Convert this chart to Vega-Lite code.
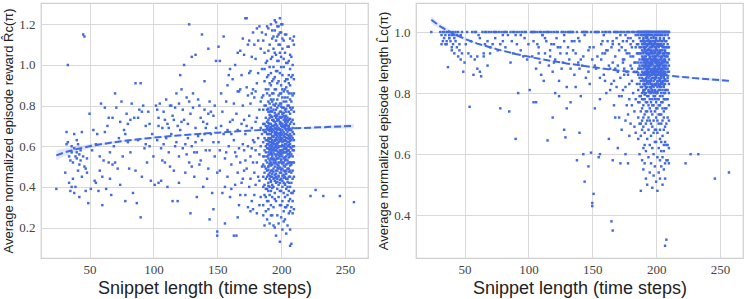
{
"$schema":"https://vega.github.io/schema/vega-lite/v6.json",
"background":"white",
"padding":{"left":2,"top":2,"right":3,"bottom":2},
"datasets":{
"fit":[
{"x":24,"ry":0.555,"rlo":0.530,"rhi":0.580,"ly":1.040,"llo":1.028,"lhi":1.052},
{"x":30,"ry":0.569,"rlo":0.549,"rhi":0.589,"ly":1.021,"llo":1.012,"lhi":1.030},
{"x":40,"ry":0.586,"rlo":0.572,"rhi":0.600,"ly":0.997,"llo":0.991,"lhi":1.003},
{"x":50,"ry":0.600,"rlo":0.589,"rhi":0.611,"ly":0.978,"llo":0.973,"lhi":0.983},
{"x":60,"ry":0.611,"rlo":0.603,"rhi":0.619,"ly":0.962,"llo":0.958,"lhi":0.966},
{"x":75,"ry":0.625,"rlo":0.619,"rhi":0.631,"ly":0.944,"llo":0.941,"lhi":0.947},
{"x":90,"ry":0.636,"rlo":0.631,"rhi":0.641,"ly":0.928,"llo":0.926,"lhi":0.930},
{"x":110,"ry":0.648,"rlo":0.644,"rhi":0.652,"ly":0.911,"llo":0.909,"lhi":0.913},
{"x":130,"ry":0.658,"rlo":0.654,"rhi":0.662,"ly":0.897,"llo":0.895,"lhi":0.899},
{"x":150,"ry":0.667,"rlo":0.664,"rhi":0.670,"ly":0.885,"llo":0.883,"lhi":0.887},
{"x":170,"ry":0.675,"rlo":0.672,"rhi":0.678,"ly":0.874,"llo":0.872,"lhi":0.876},
{"x":190,"ry":0.682,"rlo":0.679,"rhi":0.685,"ly":0.865,"llo":0.863,"lhi":0.867},
{"x":210,"ry":0.688,"rlo":0.684,"rhi":0.692,"ly":0.857,"llo":0.855,"lhi":0.859},
{"x":230,"ry":0.693,"rlo":0.686,"rhi":0.700,"ly":0.849,"llo":0.846,"lhi":0.852},
{"x":257,"ry":0.700,"rlo":0.689,"rhi":0.711,"ly":0.840,"llo":0.835,"lhi":0.845}
],
"pts":[
{"x":24,"r":0.39,"l":1.0},{"x":31,"r":0.47,"l":1.0},{"x":32,"r":0.67,"l":0.96},{"x":32,"r":0.61,"l":0.99},{"x":33,"r":1.0,"l":0.97},{"x":33,"r":0.62,"l":1.0},{"x":34,"r":0.55,"l":0.98},{"x":34,"r":0.42,"l":1.0},{"x":35,"r":0.53,"l":0.96},{"x":35,"r":0.38,"l":0.99},{"x":36,"r":0.60,"l":1.0},{"x":36,"r":0.57,"l":0.97},{"x":37,"r":0.44,"l":0.885},{"x":37,"r":0.52,"l":1.0},{"x":38,"r":0.37,"l":0.99},{"x":38,"r":0.59,"l":0.98},{"x":39,"r":0.40,"l":0.97},{"x":39,"r":0.55,"l":1.0},{"x":40,"r":0.63,"l":0.95},{"x":40,"r":0.57,"l":0.99},{"x":41,"r":0.48,"l":1.0},{"x":41,"r":0.61,"l":0.96},{"x":42,"r":0.56,"l":0.98},{"x":42,"r":0.35,"l":0.93},{"x":43,"r":0.53,"l":1.0},{"x":43,"r":0.58,"l":0.97},{"x":44,"r":0.45,"l":0.95},{"x":44,"r":0.67,"l":0.99},{"x":45,"r":1.15,"l":0.92},{"x":45,"r":0.55,"l":1.0},{"x":46,"r":1.14,"l":0.94},{"x":46,"r":0.50,"l":0.96},{"x":47,"r":0.49,"l":0.91},{"x":47,"r":0.38,"l":0.99},{"x":48,"r":0.54,"l":0.93},{"x":48,"r":0.47,"l":1.0},{"x":49,"r":0.32,"l":0.87},{"x":50,"r":0.76,"l":0.90},{"x":36,"r":0.40,"l":0.96},{"x":40,"r":0.54,"l":0.94},{"x":38,"r":0.66,"l":0.98},{"x":42,"r":0.51,"l":0.99},
{"x":51,"r":0.39,"l":0.96},{"x":52,"r":0.58,"l":1.0},{"x":53,"r":0.68,"l":0.93},{"x":54,"r":0.43,"l":0.755},{"x":55,"r":0.42,"l":0.92},{"x":56,"r":0.66,"l":1.0},{"x":57,"r":0.38,"l":0.86},{"x":58,"r":0.55,"l":0.91},{"x":59,"r":0.81,"l":1.0},{"x":60,"r":0.31,"l":0.88},{"x":60,"r":0.45,"l":0.92},{"x":61,"r":0.53,"l":0.99},{"x":62,"r":0.79,"l":0.87},{"x":63,"r":0.39,"l":0.855},{"x":64,"r":0.70,"l":1.0},{"x":65,"r":0.52,"l":0.93},{"x":66,"r":0.57,"l":0.96},{"x":67,"r":0.36,"l":1.0},{"x":68,"r":0.74,"l":0.97},{"x":69,"r":0.60,"l":1.0},{"x":70,"r":0.86,"l":0.93},{"x":71,"r":0.79,"l":1.0},{"x":72,"r":0.49,"l":0.96},{"x":73,"r":0.64,"l":1.0},{"x":74,"r":0.72,"l":0.98},{"x":75,"r":0.82,"l":1.0},{"x":76,"r":0.55,"l":0.94},{"x":77,"r":0.68,"l":1.0},{"x":78,"r":0.33,"l":0.75},{"x":79,"r":0.76,"l":1.0},{"x":80,"r":0.62,"l":0.97},{"x":81,"r":0.49,"l":1.0},{"x":82,"r":0.73,"l":0.95},{"x":83,"r":0.81,"l":1.0},{"x":84,"r":0.37,"l":0.99},{"x":85,"r":0.74,"l":0.74},{"x":86,"r":0.91,"l":1.0},{"x":87,"r":0.32,"l":0.97},{"x":88,"r":0.63,"l":0.93},{"x":89,"r":0.78,"l":1.0},{"x":90,"r":0.25,"l":0.65},{"x":90,"r":0.91,"l":0.99},{"x":91,"r":0.45,"l":0.96},{"x":92,"r":0.80,"l":0.80},{"x":93,"r":0.59,"l":1.0},{"x":94,"r":0.70,"l":0.94},{"x":95,"r":0.52,"l":1.0},{"x":96,"r":0.77,"l":0.92},{"x":97,"r":0.60,"l":0.98},{"x":98,"r":0.43,"l":1.0},{"x":99,"r":0.66,"l":0.91},{"x":100,"r":0.55,"l":0.96},{"x":55,"r":0.61,"l":0.97},{"x":58,"r":0.48,"l":1.0},{"x":62,"r":0.67,"l":0.98},{"x":66,"r":0.44,"l":1.0},{"x":70,"r":0.52,"l":0.95},{"x":74,"r":0.41,"l":1.0},{"x":78,"r":0.66,"l":0.96},{"x":82,"r":0.57,"l":1.0},{"x":86,"r":0.48,"l":0.90},{"x":88,"r":0.74,"l":1.0},{"x":94,"r":0.61,"l":0.99},{"x":97,"r":0.71,"l":1.0},{"x":65,"r":0.74,"l":0.92},{"x":80,"r":0.71,"l":0.99},{"x":91,"r":0.77,"l":1.0},{"x":68,"r":0.51,"l":0.89},
{"x":101,"r":0.41,"l":0.81},{"x":104,"r":0.42,"l":0.77},{"x":106,"r":0.43,"l":0.77},{"x":115,"r":0.33,"l":0.645},{"x":119,"r":0.33,"l":0.72},{"x":121,"r":0.95,"l":0.80},{"x":124,"r":1.0,"l":0.79},{"x":128,"r":1.2,"l":0.68},{"x":129,"r":0.27,"l":0.655},{"x":130,"r":1.04,"l":0.75},{"x":133,"r":1.05,"l":0.77},{"x":138,"r":1.15,"l":0.58},{"x":140,"r":0.92,"l":0.67},{"x":143,"r":1.08,"l":0.60},{"x":144,"r":0.24,"l":0.51},{"x":147,"r":0.29,"l":0.56},{"x":149,"r":1.02,"l":0.605},{"x":150,"r":0.18,"l":0.43},{"x":150,"r":0.16,"l":0.44},{"x":151,"r":1.09,"l":0.47},
{"x":102,"r":0.80,"l":1.0},{"x":103,"r":0.63,"l":0.92},{"x":104,"r":0.74,"l":0.97},{"x":105,"r":0.81,"l":1.0},{"x":106,"r":0.59,"l":0.88},{"x":107,"r":0.69,"l":1.0},{"x":108,"r":0.77,"l":0.95},{"x":109,"r":0.52,"l":0.90},{"x":110,"r":0.83,"l":1.0},{"x":110,"r":0.64,"l":0.86},{"x":111,"r":0.71,"l":0.99},{"x":112,"r":0.57,"l":1.0},{"x":113,"r":0.80,"l":0.93},{"x":114,"r":0.66,"l":0.97},{"x":115,"r":0.75,"l":1.0},{"x":116,"r":0.48,"l":0.89},{"x":117,"r":0.79,"l":0.94},{"x":118,"r":0.62,"l":1.0},{"x":119,"r":0.70,"l":0.87},{"x":120,"r":0.55,"l":0.96},{"x":120,"r":0.81,"l":1.0},{"x":121,"r":0.68,"l":0.91},{"x":122,"r":0.88,"l":0.98},{"x":123,"r":0.59,"l":1.0},{"x":124,"r":0.73,"l":0.84},{"x":125,"r":0.47,"l":0.95},{"x":126,"r":0.84,"l":1.0},{"x":127,"r":0.64,"l":0.90},{"x":128,"r":0.52,"l":0.99},{"x":129,"r":0.76,"l":1.0},{"x":130,"r":0.60,"l":0.82},{"x":131,"r":0.79,"l":0.95},{"x":132,"r":0.45,"l":1.0},{"x":133,"r":0.69,"l":0.88},{"x":134,"r":0.57,"l":0.97},{"x":135,"r":0.83,"l":1.0},{"x":136,"r":0.51,"l":0.86},{"x":137,"r":0.74,"l":0.93},{"x":138,"r":0.63,"l":1.0},{"x":139,"r":0.40,"l":0.90},{"x":140,"r":0.78,"l":0.97},{"x":141,"r":0.58,"l":0.79},{"x":142,"r":0.71,"l":1.0},{"x":143,"r":0.49,"l":0.92},{"x":144,"r":0.82,"l":0.99},{"x":145,"r":0.66,"l":0.85},{"x":146,"r":0.37,"l":1.0},{"x":147,"r":0.75,"l":0.94},{"x":148,"r":0.55,"l":0.83},{"x":149,"r":0.69,"l":1.0},{"x":150,"r":0.47,"l":0.91},{"x":103,"r":0.78,"l":1.0},{"x":107,"r":0.53,"l":0.96},{"x":111,"r":0.40,"l":0.99},{"x":114,"r":0.80,"l":1.0},{"x":117,"r":0.60,"l":0.92},{"x":122,"r":0.72,"l":1.0},{"x":126,"r":0.56,"l":0.88},{"x":131,"r":0.86,"l":1.0},{"x":135,"r":0.65,"l":0.94},{"x":139,"r":0.72,"l":0.98},{"x":143,"r":0.76,"l":1.0},{"x":147,"r":0.62,"l":0.87},{"x":112,"r":0.69,"l":0.84},{"x":125,"r":0.61,"l":0.93},{"x":134,"r":0.35,"l":1.0},{"x":142,"r":0.44,"l":0.89},{"x":118,"r":0.86,"l":0.96},{"x":137,"r":0.53,"l":0.82},{"x":145,"r":0.77,"l":1.0},{"x":128,"r":0.82,"l":0.97},{"x":109,"r":0.73,"l":1.0},{"x":132,"r":0.57,"l":0.91},{"x":140,"r":0.66,"l":0.88},
{"x":104,"r":0.70,"l":1.0},{"x":108,"r":0.61,"l":0.93},{"x":113,"r":0.50,"l":0.98},{"x":116,"r":0.73,"l":1.0},{"x":120,"r":0.42,"l":0.90},{"x":123,"r":0.78,"l":0.95},{"x":127,"r":0.71,"l":1.0},{"x":130,"r":0.50,"l":0.93},{"x":133,"r":0.62,"l":1.0},{"x":136,"r":0.80,"l":0.97},{"x":141,"r":0.69,"l":0.91},{"x":144,"r":0.58,"l":1.0},{"x":148,"r":0.80,"l":0.95},{"x":152,"r":0.58,"l":0.89},{"x":154,"r":0.77,"l":1.0},{"x":156,"r":0.40,"l":0.85},{"x":158,"r":0.90,"l":0.93},{"x":161,"r":0.66,"l":1.0},{"x":164,"r":0.57,"l":0.81},{"x":166,"r":0.87,"l":0.96},{"x":168,"r":0.36,"l":0.88},{"x":169,"r":0.95,"l":1.0},{"x":171,"r":0.48,"l":0.79},{"x":173,"r":0.70,"l":0.95},{"x":175,"r":1.12,"l":0.86},{"x":176,"r":0.44,"l":0.71},{"x":177,"r":0.86,"l":0.97},{"x":178,"r":0.52,"l":1.0},{"x":179,"r":1.10,"l":0.83},{"x":180,"r":0.87,"l":0.92},{"x":181,"r":0.74,"l":0.76},{"x":182,"r":0.96,"l":1.0},{"x":183,"r":0.43,"l":0.90},{"x":184,"r":0.82,"l":0.78},{"x":185,"r":0.66,"l":0.96},{"x":185,"r":1.16,"l":0.87},{"x":181,"r":1.18,"l":0.95},{"x":179,"r":0.36,"l":0.66},{"x":177,"r":0.59,"l":0.87},{"x":174,"r":0.85,"l":0.81},
{"x":152,"r":1.02,"l":0.75},{"x":155,"r":1.14,"l":0.59},{"x":156,"r":0.22,"l":0.60},{"x":160,"r":0.98,"l":0.84},{"x":163,"r":0.16,"l":0.65},{"x":165,"r":0.16,"l":0.38},{"x":166,"r":0.25,"l":0.35},{"x":166,"r":1.06,"l":0.58},{"x":168,"r":1.07,"l":0.72},{"x":170,"r":1.13,"l":0.62},{"x":172,"r":1.23,"l":0.57},{"x":173,"r":1.23,"l":0.68},{"x":176,"r":0.28,"l":0.60},{"x":178,"r":0.29,"l":0.57},
{"x":151,"r":0.62,"l":0.95},{"x":152,"r":0.48,"l":1.0},{"x":153,"r":0.70,"l":0.88},{"x":154,"r":0.37,"l":0.92},{"x":155,"r":0.66,"l":1.0},{"x":156,"r":0.54,"l":0.78},{"x":157,"r":0.82,"l":0.96},{"x":158,"r":0.45,"l":1.0},{"x":159,"r":0.60,"l":0.86},{"x":160,"r":0.35,"l":0.93},{"x":160,"r":0.72,"l":1.0},{"x":161,"r":0.51,"l":0.80},{"x":162,"r":0.93,"l":0.97},{"x":163,"r":0.63,"l":0.89},{"x":164,"r":0.41,"l":1.0},{"x":165,"r":0.76,"l":0.83},{"x":165,"r":0.55,"l":0.95},{"x":166,"r":0.68,"l":0.90},{"x":167,"r":0.31,"l":1.0},{"x":167,"r":0.87,"l":0.76},{"x":168,"r":0.52,"l":0.92},{"x":169,"r":0.71,"l":0.98},{"x":170,"r":0.44,"l":0.87},{"x":170,"r":0.80,"l":1.0},{"x":171,"r":0.58,"l":0.72},{"x":171,"r":1.05,"l":0.94},{"x":172,"r":0.36,"l":0.99},{"x":172,"r":0.66,"l":0.85},{"x":173,"r":0.89,"l":1.0},{"x":173,"r":0.49,"l":0.79},{"x":174,"r":0.60,"l":0.91},{"x":174,"r":1.10,"l":0.97},{"x":175,"r":0.75,"l":0.88},{"x":175,"r":0.40,"l":1.0},{"x":176,"r":0.97,"l":0.82},{"x":176,"r":0.55,"l":0.94},{"x":177,"r":0.69,"l":1.0},{"x":177,"r":0.33,"l":0.76},{"x":178,"r":1.16,"l":0.98},{"x":178,"r":0.63,"l":0.86},{"x":179,"r":0.84,"l":0.93},{"x":179,"r":0.47,"l":1.0},{"x":180,"r":1.03,"l":0.89},{"x":180,"r":0.58,"l":0.70},{"x":180,"r":0.72,"l":0.96},{"x":181,"r":0.27,"l":0.84},{"x":181,"r":0.91,"l":1.0},{"x":182,"r":1.12,"l":0.92},{"x":182,"r":0.64,"l":0.80},{"x":182,"r":0.45,"l":0.97},{"x":183,"r":1.19,"l":0.87},{"x":183,"r":0.78,"l":1.0},{"x":183,"r":0.56,"l":0.74},{"x":184,"r":1.08,"l":0.95},{"x":184,"r":0.35,"l":0.67},{"x":184,"r":0.69,"l":0.90},{"x":185,"r":0.98,"l":1.0},{"x":185,"r":0.50,"l":0.83},{"x":185,"r":0.84,"l":0.93},{"x":153,"r":0.86,"l":1.0},{"x":157,"r":0.57,"l":0.91},{"x":159,"r":0.95,"l":0.99},{"x":161,"r":0.39,"l":0.94},{"x":163,"r":0.81,"l":1.0},{"x":164,"r":1.0,"l":0.88},{"x":166,"r":0.47,"l":0.97},{"x":168,"r":0.88,"l":1.0},{"x":169,"r":0.42,"l":0.82},{"x":171,"r":0.73,"l":0.96},{"x":174,"r":0.30,"l":0.90},{"x":176,"r":0.81,"l":0.99},{"x":177,"r":1.04,"l":0.93},{"x":179,"r":0.62,"l":0.78},{"x":181,"r":0.52,"l":0.88},{"x":178,"r":0.88,"l":0.73},{"x":180,"r":0.41,"l":0.98},{"x":183,"r":0.31,"l":0.69},{"x":184,"r":0.60,"l":0.99},{"x":175,"r":0.96,"l":0.91},{"x":172,"r":0.53,"l":1.0},{"x":170,"r":0.61,"l":0.89},{"x":167,"r":0.59,"l":0.84},{"x":162,"r":0.73,"l":0.94},{"x":158,"r":0.68,"l":0.97},
{"x":186,"r":0.62,"l":0.93},{"x":186,"r":0.45,"l":1.0},{"x":186,"r":0.78,"l":0.86},{"x":186,"r":0.31,"l":0.72},{"x":186,"r":1.12,"l":0.96},{"x":186,"r":0.55,"l":0.81},{"x":186,"r":0.68,"l":0.90},{"x":186,"r":0.26,"l":0.65},{"x":186,"r":0.51,"l":0.99},{"x":186,"r":0.85,"l":0.77},{"x":186,"r":0.40,"l":0.88},{"x":186,"r":0.71,"l":1.0},
{"x":187,"r":0.58,"l":1.0},{"x":187,"r":0.71,"l":0.88},{"x":187,"r":0.41,"l":0.77},{"x":187,"r":0.92,"l":0.95},{"x":187,"r":0.64,"l":0.83},{"x":187,"r":0.21,"l":0.60},{"x":187,"r":0.50,"l":0.91},{"x":187,"r":1.06,"l":0.98},{"x":187,"r":0.47,"l":0.70},{"x":187,"r":0.80,"l":1.0},{"x":187,"r":0.36,"l":0.85},{"x":187,"r":0.67,"l":0.93},{"x":187,"r":0.55,"l":0.79},{"x":187,"r":0.98,"l":0.89},
{"x":188,"r":0.67,"l":0.86},{"x":188,"r":0.53,"l":0.97},{"x":188,"r":0.35,"l":0.70},{"x":188,"r":0.80,"l":1.0},{"x":188,"r":1.15,"l":0.93},{"x":188,"r":0.60,"l":0.79},{"x":188,"r":0.44,"l":0.48},{"x":188,"r":0.74,"l":0.90},{"x":188,"r":0.28,"l":0.66},{"x":188,"r":0.57,"l":1.0},{"x":188,"r":0.88,"l":0.84},{"x":188,"r":0.49,"l":0.95},{"x":188,"r":0.70,"l":0.74},{"x":188,"r":1.01,"l":0.99},{"x":188,"r":0.63,"l":0.88},{"x":188,"r":0.39,"l":0.82},
{"x":189,"r":0.55,"l":0.94},{"x":189,"r":0.63,"l":0.82},{"x":189,"r":0.72,"l":1.0},{"x":189,"r":0.39,"l":0.75},{"x":189,"r":0.86,"l":0.89},{"x":189,"r":0.48,"l":0.99},{"x":189,"r":1.02,"l":0.68},{"x":189,"r":0.59,"l":0.87},{"x":189,"r":0.24,"l":0.58},{"x":189,"r":0.69,"l":0.92},{"x":189,"r":0.78,"l":0.96},{"x":189,"r":0.45,"l":0.80},{"x":189,"r":0.94,"l":1.0},{"x":189,"r":0.52,"l":0.85},{"x":189,"r":0.66,"l":0.71},{"x":189,"r":1.19,"l":0.91},{"x":189,"r":0.33,"l":0.97},{"x":189,"r":0.61,"l":0.78},
{"x":190,"r":0.61,"l":0.90},{"x":190,"r":0.50,"l":1.0},{"x":190,"r":0.77,"l":0.84},{"x":190,"r":0.33,"l":0.72},{"x":190,"r":0.95,"l":0.96},{"x":190,"r":0.66,"l":0.62},{"x":190,"r":0.42,"l":0.88},{"x":190,"r":1.18,"l":0.98},{"x":190,"r":0.57,"l":0.78},{"x":190,"r":0.70,"l":0.93},{"x":190,"r":0.29,"l":0.55},{"x":190,"r":0.82,"l":1.0},{"x":190,"r":0.46,"l":0.86},{"x":190,"r":0.64,"l":0.81},{"x":190,"r":0.54,"l":0.95},{"x":190,"r":1.07,"l":0.91},{"x":190,"r":0.73,"l":0.69},{"x":190,"r":0.38,"l":0.99},{"x":190,"r":0.59,"l":0.83},{"x":190,"r":0.88,"l":0.76},{"x":190,"r":0.68,"l":0.97},{"x":190,"r":0.50,"l":0.89},
{"x":191,"r":0.64,"l":0.97},{"x":191,"r":0.58,"l":0.86},{"x":191,"r":0.47,"l":0.91},{"x":191,"r":0.81,"l":1.0},{"x":191,"r":0.36,"l":0.67},{"x":191,"r":1.10,"l":0.94},{"x":191,"r":0.69,"l":0.81},{"x":191,"r":0.53,"l":0.73},{"x":191,"r":0.74,"l":0.89},{"x":191,"r":0.22,"l":0.57},{"x":191,"r":0.60,"l":0.99},{"x":191,"r":0.91,"l":0.84},{"x":191,"r":0.44,"l":1.0},{"x":191,"r":0.66,"l":0.92},{"x":191,"r":0.77,"l":0.78},{"x":191,"r":0.51,"l":0.96},{"x":191,"r":0.99,"l":0.87},{"x":191,"r":0.62,"l":0.63},{"x":191,"r":0.40,"l":0.83},{"x":191,"r":0.71,"l":0.95},{"x":191,"r":0.56,"l":0.80},{"x":191,"r":0.85,"l":0.90},
{"x":192,"r":0.59,"l":0.83},{"x":192,"r":0.66,"l":0.95},{"x":192,"r":0.43,"l":1.0},{"x":192,"r":0.75,"l":0.77},{"x":192,"r":0.52,"l":0.92},{"x":192,"r":0.90,"l":0.87},{"x":192,"r":0.31,"l":0.61},{"x":192,"r":1.20,"l":0.99},{"x":192,"r":0.62,"l":0.70},{"x":192,"r":0.48,"l":0.85},{"x":192,"r":0.71,"l":0.96},{"x":192,"r":0.38,"l":0.52},{"x":192,"r":0.57,"l":1.0},{"x":192,"r":0.83,"l":0.89},{"x":192,"r":1.03,"l":0.80},{"x":192,"r":0.68,"l":0.93},{"x":192,"r":0.45,"l":0.74},{"x":192,"r":0.79,"l":0.98},{"x":192,"r":0.54,"l":0.82},{"x":192,"r":0.26,"l":0.88},{"x":192,"r":0.64,"l":1.0},{"x":192,"r":0.96,"l":0.91},
{"x":193,"r":0.63,"l":1.0},{"x":193,"r":0.55,"l":0.90},{"x":193,"r":0.70,"l":0.79},{"x":193,"r":0.45,"l":0.94},{"x":193,"r":0.82,"l":0.86},{"x":193,"r":0.60,"l":0.65},{"x":193,"r":1.13,"l":0.98},{"x":193,"r":0.35,"l":0.74},{"x":193,"r":0.67,"l":0.88},{"x":193,"r":0.51,"l":0.82},{"x":193,"r":0.77,"l":0.93},{"x":193,"r":0.26,"l":0.50},{"x":193,"r":0.58,"l":0.97},{"x":193,"r":0.92,"l":0.84},{"x":193,"r":0.48,"l":1.0},{"x":193,"r":0.73,"l":0.71},{"x":193,"r":1.04,"l":0.91},{"x":193,"r":0.65,"l":0.87},{"x":193,"r":0.41,"l":0.96},{"x":193,"r":0.86,"l":0.77},{"x":193,"r":0.56,"l":0.89},{"x":193,"r":1.17,"l":0.99},
{"x":194,"r":0.57,"l":0.91},{"x":194,"r":0.68,"l":0.84},{"x":194,"r":0.49,"l":1.0},{"x":194,"r":0.73,"l":0.96},{"x":194,"r":0.62,"l":0.76},{"x":194,"r":0.40,"l":0.89},{"x":194,"r":0.99,"l":0.68},{"x":194,"r":0.54,"l":0.93},{"x":194,"r":0.86,"l":0.81},{"x":194,"r":0.65,"l":0.99},{"x":194,"r":0.30,"l":0.59},{"x":194,"r":1.08,"l":0.87},{"x":194,"r":0.59,"l":0.72},{"x":194,"r":0.78,"l":1.0},{"x":194,"r":0.44,"l":0.85},{"x":194,"r":0.70,"l":0.94},{"x":194,"r":1.14,"l":0.90},{"x":194,"r":0.52,"l":0.79},{"x":194,"r":0.83,"l":0.97},{"x":194,"r":0.21,"l":0.83},{"x":194,"r":0.61,"l":0.88},{"x":194,"r":0.93,"l":1.0},
{"x":195,"r":0.61,"l":0.95},{"x":195,"r":0.53,"l":0.88},{"x":195,"r":0.72,"l":0.82},{"x":195,"r":0.46,"l":1.0},{"x":195,"r":0.66,"l":0.71},{"x":195,"r":0.58,"l":0.92},{"x":195,"r":0.80,"l":0.86},{"x":195,"r":1.17,"l":0.97},{"x":195,"r":0.37,"l":0.63},{"x":195,"r":0.69,"l":0.78},{"x":195,"r":0.50,"l":0.90},{"x":195,"r":0.94,"l":0.84},{"x":195,"r":0.20,"l":0.54},{"x":195,"r":0.63,"l":0.99},{"x":195,"r":1.06,"l":0.93},{"x":195,"r":0.75,"l":1.0},{"x":195,"r":0.43,"l":0.80},{"x":195,"r":0.88,"l":0.89},{"x":195,"r":0.56,"l":0.75},{"x":195,"r":1.22,"l":0.96},{"x":195,"r":0.67,"l":0.87},{"x":195,"r":0.34,"l":0.94},
{"x":196,"r":0.64,"l":0.87},{"x":196,"r":0.55,"l":1.0},{"x":196,"r":0.78,"l":0.93},{"x":196,"r":0.48,"l":0.80},{"x":196,"r":0.60,"l":0.96},{"x":196,"r":0.71,"l":0.74},{"x":196,"r":1.05,"l":0.89},{"x":196,"r":0.42,"l":0.66},{"x":196,"r":0.67,"l":0.98},{"x":196,"r":0.58,"l":0.84},{"x":196,"r":1.21,"l":0.91},{"x":196,"r":0.33,"l":0.57},{"x":196,"r":0.74,"l":0.82},{"x":196,"r":0.52,"l":0.94},{"x":196,"r":0.88,"l":0.77},{"x":196,"r":1.12,"l":1.0},{"x":196,"r":0.63,"l":0.86},{"x":196,"r":0.45,"l":0.99},{"x":196,"r":0.97,"l":0.90},{"x":196,"r":0.69,"l":0.70},{"x":196,"r":0.16,"l":0.83},{"x":196,"r":0.81,"l":0.95},
{"x":197,"r":0.59,"l":1.0},{"x":197,"r":0.68,"l":0.92},{"x":197,"r":0.51,"l":0.85},{"x":197,"r":0.75,"l":0.97},{"x":197,"r":0.63,"l":0.73},{"x":197,"r":0.44,"l":0.88},{"x":197,"r":0.97,"l":0.81},{"x":197,"r":0.56,"l":0.95},{"x":197,"r":1.14,"l":0.69},{"x":197,"r":0.70,"l":0.90},{"x":197,"r":0.26,"l":0.49},{"x":197,"r":0.61,"l":0.86},{"x":197,"r":0.83,"l":0.99},{"x":197,"r":0.39,"l":0.62},{"x":197,"r":0.65,"l":0.78},{"x":197,"r":1.02,"l":0.93},{"x":197,"r":0.48,"l":1.0},{"x":197,"r":0.79,"l":0.83},{"x":197,"r":1.19,"l":0.87},{"x":197,"r":0.54,"l":0.76},{"x":197,"r":0.91,"l":0.96},{"x":197,"r":0.73,"l":0.91},
{"x":198,"r":0.62,"l":0.93},{"x":198,"r":0.57,"l":0.84},{"x":198,"r":0.73,"l":1.0},{"x":198,"r":0.49,"l":0.79},{"x":198,"r":0.66,"l":0.96},{"x":198,"r":1.19,"l":0.88},{"x":198,"r":0.54,"l":0.71},{"x":198,"r":0.80,"l":0.91},{"x":198,"r":0.35,"l":0.60},{"x":198,"r":0.69,"l":0.98},{"x":198,"r":1.02,"l":0.85},{"x":198,"r":0.60,"l":0.76},{"x":198,"r":0.45,"l":0.94},{"x":198,"r":0.76,"l":0.82},{"x":198,"r":0.22,"l":0.53},{"x":198,"r":0.92,"l":0.89},{"x":198,"r":1.10,"l":1.0},{"x":198,"r":0.52,"l":0.87},{"x":198,"r":0.85,"l":0.67},{"x":198,"r":0.64,"l":0.97},{"x":198,"r":0.41,"l":0.80},{"x":198,"r":1.15,"l":0.92},
{"x":199,"r":0.65,"l":0.86},{"x":199,"r":0.58,"l":1.0},{"x":199,"r":0.71,"l":0.92},{"x":199,"r":1.10,"l":0.78},{"x":199,"r":0.52,"l":0.97},{"x":199,"r":0.63,"l":0.83},{"x":199,"r":0.86,"l":0.90},{"x":199,"r":0.42,"l":0.68},{"x":199,"r":1.23,"l":0.95},{"x":199,"r":0.68,"l":0.74},{"x":199,"r":0.55,"l":0.88},{"x":199,"r":0.31,"l":0.56},{"x":199,"r":0.77,"l":0.99},{"x":199,"r":0.60,"l":0.81},{"x":199,"r":0.96,"l":0.93},{"x":199,"r":1.16,"l":1.0},{"x":199,"r":0.47,"l":0.85},{"x":199,"r":0.81,"l":0.64},{"x":199,"r":0.13,"l":0.91},{"x":199,"r":1.06,"l":0.87},{"x":199,"r":0.72,"l":0.96},{"x":199,"r":0.38,"l":0.79},
{"x":200,"r":0.60,"l":0.98},{"x":200,"r":0.67,"l":0.89},{"x":200,"r":0.53,"l":0.80},{"x":200,"r":0.74,"l":0.94},{"x":200,"r":1.16,"l":0.85},{"x":200,"r":0.47,"l":0.72},{"x":200,"r":0.63,"l":1.0},{"x":200,"r":0.90,"l":0.91},{"x":200,"r":0.38,"l":0.64},{"x":200,"r":0.70,"l":0.87},{"x":200,"r":0.56,"l":0.77},{"x":200,"r":1.04,"l":0.95},{"x":200,"r":0.25,"l":0.51},{"x":200,"r":0.81,"l":0.83},{"x":200,"r":0.64,"l":0.92},{"x":200,"r":1.20,"l":0.99},{"x":200,"r":0.44,"l":0.86},{"x":200,"r":0.77,"l":1.0},{"x":200,"r":0.99,"l":0.75},{"x":200,"r":0.58,"l":0.90},{"x":200,"r":0.31,"l":0.68},{"x":200,"r":0.86,"l":0.96},
{"x":201,"r":0.58,"l":0.91},{"x":201,"r":0.66,"l":1.0},{"x":201,"r":0.49,"l":0.84},{"x":201,"r":0.76,"l":0.96},{"x":201,"r":0.62,"l":0.75},{"x":201,"r":1.08,"l":0.88},{"x":201,"r":0.43,"l":0.67},{"x":201,"r":0.71,"l":0.93},{"x":201,"r":0.55,"l":0.80},{"x":201,"r":0.88,"l":0.99},{"x":201,"r":0.33,"l":0.59},{"x":201,"r":0.64,"l":0.86},{"x":201,"r":1.20,"l":0.90},{"x":201,"r":0.19,"l":0.48},{"x":201,"r":0.79,"l":0.82},{"x":201,"r":0.52,"l":0.97},{"x":201,"r":1.13,"l":0.78},{"x":201,"r":0.68,"l":1.0},{"x":201,"r":0.40,"l":0.87},{"x":201,"r":0.95,"l":0.94},{"x":201,"r":0.60,"l":0.71},{"x":201,"r":0.84,"l":0.89},
{"x":202,"r":0.63,"l":0.87},{"x":202,"r":0.54,"l":0.95},{"x":202,"r":0.70,"l":0.78},{"x":202,"r":0.46,"l":1.0},{"x":202,"r":0.79,"l":0.90},{"x":202,"r":0.60,"l":0.70},{"x":202,"r":0.99,"l":0.83},{"x":202,"r":0.37,"l":0.62},{"x":202,"r":0.67,"l":0.97},{"x":202,"r":0.52,"l":0.85},{"x":202,"r":1.12,"l":0.92},{"x":202,"r":0.28,"l":0.54},{"x":202,"r":0.73,"l":0.81},{"x":202,"r":0.57,"l":0.99},{"x":202,"r":0.87,"l":0.88},{"x":202,"r":0.42,"l":0.76},{"x":202,"r":1.03,"l":1.0},{"x":202,"r":0.65,"l":0.93},{"x":202,"r":0.48,"l":0.84},{"x":202,"r":0.82,"l":0.96},{"x":202,"r":0.23,"l":0.73},{"x":202,"r":0.75,"l":0.89},
{"x":203,"r":0.61,"l":0.93},{"x":203,"r":0.57,"l":0.82},{"x":203,"r":0.72,"l":1.0},{"x":203,"r":0.41,"l":0.76},{"x":203,"r":0.66,"l":0.89},{"x":203,"r":0.84,"l":0.96},{"x":203,"r":0.50,"l":0.68},{"x":203,"r":1.06,"l":0.86},{"x":203,"r":0.35,"l":0.58},{"x":203,"r":0.69,"l":0.91},{"x":203,"r":0.24,"l":0.52},{"x":203,"r":0.78,"l":0.79},{"x":203,"r":0.59,"l":0.98},{"x":203,"r":0.92,"l":0.84},{"x":203,"r":0.45,"l":1.0},{"x":203,"r":0.74,"l":0.88},{"x":203,"r":0.53,"l":0.73},{"x":203,"r":1.15,"l":0.94},{"x":203,"r":0.63,"l":0.81},{"x":203,"r":0.88,"l":0.99},{"x":203,"r":0.30,"l":0.65},{"x":203,"r":0.70,"l":0.87},
{"x":204,"r":0.59,"l":1.0},{"x":204,"r":0.68,"l":0.88},{"x":204,"r":0.48,"l":0.80},{"x":204,"r":0.75,"l":0.94},{"x":204,"r":0.55,"l":0.73},{"x":204,"r":0.93,"l":0.85},{"x":204,"r":0.39,"l":0.64},{"x":204,"r":0.64,"l":0.97},{"x":204,"r":1.15,"l":0.90},{"x":204,"r":0.30,"l":0.56},{"x":204,"r":0.71,"l":0.83},{"x":204,"r":0.51,"l":0.92},{"x":204,"r":0.82,"l":1.0},{"x":204,"r":0.61,"l":0.77},{"x":204,"r":1.01,"l":0.96},{"x":204,"r":0.44,"l":0.86},{"x":204,"r":0.77,"l":0.70},{"x":204,"r":0.57,"l":0.99},{"x":204,"r":0.89,"l":0.82},{"x":204,"r":0.66,"l":0.91},{"x":204,"r":0.17,"l":0.61},{"x":204,"r":0.73,"l":0.87},
{"x":205,"r":0.62,"l":0.90},{"x":205,"r":0.53,"l":0.97},{"x":205,"r":0.74,"l":0.77},{"x":205,"r":0.44,"l":0.84},{"x":205,"r":0.67,"l":1.0},{"x":205,"r":0.87,"l":0.92},{"x":205,"r":0.36,"l":0.66},{"x":205,"r":1.01,"l":0.86},{"x":205,"r":0.58,"l":0.71},{"x":205,"r":0.21,"l":0.50},{"x":205,"r":0.70,"l":0.95},{"x":205,"r":0.49,"l":0.81},{"x":205,"r":0.80,"l":0.99},{"x":205,"r":0.64,"l":0.88},{"x":205,"r":1.09,"l":0.93},{"x":205,"r":0.40,"l":0.75},{"x":205,"r":0.56,"l":1.0},{"x":205,"r":0.93,"l":0.83},{"x":205,"r":0.72,"l":0.89},{"x":205,"r":0.31,"l":0.59},{"x":205,"r":0.60,"l":0.94},{"x":205,"r":0.84,"l":0.79},
{"x":206,"r":0.60,"l":0.85},{"x":206,"r":0.70,"l":0.96},{"x":206,"r":0.49,"l":0.74},{"x":206,"r":0.80,"l":1.0},{"x":206,"r":0.38,"l":0.61},{"x":206,"r":0.65,"l":0.89},{"x":206,"r":0.95,"l":0.82},{"x":206,"r":0.27,"l":0.55},{"x":206,"r":0.56,"l":0.93},{"x":206,"r":1.09,"l":0.87},{"x":206,"r":0.73,"l":0.78},{"x":206,"r":0.45,"l":0.98},{"x":206,"r":0.62,"l":0.84},{"x":206,"r":0.86,"l":0.91},{"x":206,"r":0.33,"l":0.68},{"x":206,"r":0.68,"l":1.0},{"x":206,"r":1.02,"l":0.80},{"x":206,"r":0.52,"l":0.90},{"x":206,"r":0.77,"l":0.72},{"x":206,"r":0.58,"l":0.95},{"x":206,"r":0.91,"l":0.86},{"x":206,"r":0.42,"l":0.63},
{"x":207,"r":0.57,"l":0.94},{"x":207,"r":0.66,"l":0.80},{"x":207,"r":0.45,"l":0.88},{"x":207,"r":0.76,"l":0.99},{"x":207,"r":0.34,"l":0.69},{"x":207,"r":0.90,"l":0.86},{"x":207,"r":0.19,"l":0.57},{"x":207,"r":0.61,"l":0.91},{"x":207,"r":0.11,"l":0.30},{"x":207,"r":1.13,"l":0.97},{"x":207,"r":0.52,"l":0.83},{"x":207,"r":0.71,"l":1.0},{"x":207,"r":0.83,"l":0.75},{"x":207,"r":0.40,"l":0.89},{"x":207,"r":0.64,"l":0.64},{"x":207,"r":0.98,"l":0.92},{"x":207,"r":0.55,"l":0.78},{"x":207,"r":0.79,"l":0.95},{"x":207,"r":0.28,"l":0.52},{"x":207,"r":0.68,"l":0.87},{"x":207,"r":1.05,"l":1.0},{"x":207,"r":0.48,"l":0.81},
{"x":208,"r":0.63,"l":0.88},{"x":208,"r":0.52,"l":1.0},{"x":208,"r":0.72,"l":0.78},{"x":208,"r":0.42,"l":0.92},{"x":208,"r":0.86,"l":0.84},{"x":208,"r":0.30,"l":0.63},{"x":208,"r":0.59,"l":0.95},{"x":208,"r":0.12,"l":0.32},{"x":208,"r":1.04,"l":0.90},{"x":208,"r":0.68,"l":0.75},{"x":208,"r":0.47,"l":0.97},{"x":208,"r":0.78,"l":0.86},{"x":208,"r":0.56,"l":0.70},{"x":208,"r":0.94,"l":1.0},{"x":208,"r":0.37,"l":0.58},{"x":208,"r":0.65,"l":0.93},{"x":208,"r":0.82,"l":0.81},{"x":208,"r":0.51,"l":0.89},
{"x":209,"r":0.60,"l":1.0},{"x":209,"r":0.69,"l":0.87},{"x":209,"r":0.48,"l":0.93},{"x":209,"r":0.79,"l":0.81},{"x":209,"r":0.37,"l":0.72},{"x":209,"r":0.95,"l":0.96},{"x":209,"r":0.55,"l":0.84},{"x":209,"r":1.12,"l":0.90},{"x":209,"r":0.27,"l":0.63},{"x":209,"r":0.73,"l":0.99},{"x":209,"r":0.64,"l":0.78},{"x":209,"r":0.44,"l":0.58},{"x":209,"r":0.85,"l":0.88},{"x":209,"r":0.58,"l":1.0},{"x":209,"r":1.00,"l":0.92},{"x":209,"r":0.33,"l":0.67},{"x":209,"r":0.67,"l":0.85},{"x":209,"r":0.52,"l":0.95},
{"x":210,"r":0.66,"l":0.95},{"x":210,"r":0.58,"l":0.89},{"x":210,"r":0.86,"l":1.0},{"x":210,"r":1.10,"l":0.83},{"x":210,"r":0.45,"l":0.76},{"x":210,"r":0.71,"l":0.91},{"x":210,"r":0.38,"l":0.62},{"x":210,"r":0.63,"l":0.98},{"x":210,"r":0.93,"l":0.87},{"x":210,"r":0.52,"l":0.71},{"x":210,"r":1.14,"l":1.0},{"x":210,"r":0.77,"l":0.80},{"x":210,"r":0.29,"l":0.57},{"x":210,"r":0.60,"l":0.93},
{"x":190,"r":0.555,"l":0.915},{"x":190,"r":0.715,"l":0.845},{"x":190,"r":0.485,"l":0.975},{"x":190,"r":0.625,"l":0.805},{"x":190,"r":0.405,"l":0.935},{"x":190,"r":0.785,"l":0.865},
{"x":191,"r":0.585,"l":0.885},{"x":191,"r":0.455,"l":0.945},{"x":191,"r":0.675,"l":0.825},{"x":191,"r":0.755,"l":0.965},{"x":191,"r":0.515,"l":0.795},{"x":191,"r":0.635,"l":0.905},
{"x":192,"r":0.505,"l":0.935},{"x":192,"r":0.695,"l":0.865},{"x":192,"r":0.605,"l":0.985},{"x":192,"r":0.425,"l":0.815},{"x":192,"r":0.775,"l":0.895},{"x":192,"r":0.565,"l":0.845},
{"x":193,"r":0.615,"l":0.875},{"x":193,"r":0.535,"l":0.955},{"x":193,"r":0.745,"l":0.835},{"x":193,"r":0.465,"l":0.905},{"x":193,"r":0.685,"l":0.985},{"x":193,"r":0.395,"l":0.855},
{"x":194,"r":0.645,"l":0.945},{"x":194,"r":0.475,"l":0.865},{"x":194,"r":0.585,"l":0.805},{"x":194,"r":0.725,"l":0.925},{"x":194,"r":0.535,"l":0.975},{"x":194,"r":0.805,"l":0.885},
{"x":195,"r":0.595,"l":0.835},{"x":195,"r":0.705,"l":0.915},{"x":195,"r":0.515,"l":0.965},{"x":195,"r":0.625,"l":0.855},{"x":195,"r":0.445,"l":0.895},{"x":195,"r":0.765,"l":0.805},
{"x":196,"r":0.535,"l":0.905},{"x":196,"r":0.655,"l":0.845},{"x":196,"r":0.755,"l":0.965},{"x":196,"r":0.465,"l":0.875},{"x":196,"r":0.595,"l":0.815},{"x":196,"r":0.705,"l":0.935},
{"x":197,"r":0.665,"l":0.955},{"x":197,"r":0.575,"l":0.825},{"x":197,"r":0.495,"l":0.895},{"x":197,"r":0.725,"l":0.865},{"x":197,"r":0.425,"l":0.935},{"x":197,"r":0.615,"l":0.805},
{"x":198,"r":0.555,"l":0.865},{"x":198,"r":0.685,"l":0.955},{"x":198,"r":0.455,"l":0.905},{"x":198,"r":0.595,"l":0.825},{"x":198,"r":0.735,"l":0.875},{"x":198,"r":0.505,"l":0.985},
{"x":199,"r":0.625,"l":0.915},{"x":199,"r":0.495,"l":0.845},{"x":199,"r":0.745,"l":0.885},{"x":199,"r":0.565,"l":0.965},{"x":199,"r":0.665,"l":0.805},{"x":199,"r":0.435,"l":0.935},
{"x":200,"r":0.575,"l":0.875},{"x":200,"r":0.655,"l":0.825},{"x":200,"r":0.485,"l":0.945},{"x":200,"r":0.715,"l":0.905},{"x":200,"r":0.535,"l":0.855},{"x":200,"r":0.795,"l":0.975},
{"x":201,"r":0.605,"l":0.835},{"x":201,"r":0.455,"l":0.925},{"x":201,"r":0.695,"l":0.875},{"x":201,"r":0.565,"l":0.955},{"x":201,"r":0.745,"l":0.805},{"x":201,"r":0.515,"l":0.895},
{"x":202,"r":0.585,"l":0.905},{"x":202,"r":0.695,"l":0.865},{"x":202,"r":0.445,"l":0.825},{"x":202,"r":0.625,"l":0.955},{"x":202,"r":0.505,"l":0.885},{"x":202,"r":0.765,"l":0.935},
{"x":203,"r":0.545,"l":0.865},{"x":203,"r":0.645,"l":0.935},{"x":203,"r":0.475,"l":0.895},{"x":203,"r":0.705,"l":0.825},{"x":203,"r":0.595,"l":0.975},{"x":203,"r":0.415,"l":0.845},
{"x":204,"r":0.625,"l":0.855},{"x":204,"r":0.535,"l":0.915},{"x":204,"r":0.705,"l":0.875},{"x":204,"r":0.465,"l":0.955},{"x":204,"r":0.785,"l":0.835},{"x":204,"r":0.585,"l":0.895},
{"x":205,"r":0.515,"l":0.875},{"x":205,"r":0.655,"l":0.835},{"x":205,"r":0.575,"l":0.955},{"x":205,"r":0.725,"l":0.905},{"x":205,"r":0.425,"l":0.865},
{"x":206,"r":0.635,"l":0.925},{"x":206,"r":0.545,"l":0.855},{"x":206,"r":0.695,"l":0.885},{"x":206,"r":0.475,"l":0.825},{"x":206,"r":0.605,"l":0.975},
{"x":207,"r":0.595,"l":0.845},{"x":207,"r":0.505,"l":0.905},{"x":207,"r":0.735,"l":0.865},{"x":207,"r":0.625,"l":0.935},
{"x":223,"r":0.355,"l":0.57},{"x":227,"r":0.385,"l":0.60},{"x":233,"r":0.355,"l":0.60},{"x":246,"r":0.355,"l":0.52},{"x":257,"r":0.325,"l":0.54}
]
},
"spacing":8,
"hconcat":[
{"width":327,"height":255,
"layer":[
{"data":{"name":"fit"},"mark":{"type":"area","color":"#4169e1","opacity":0.15},
"encoding":{"x":{"field":"x","type":"quantitative","scale":{"domain":[12,268],"nice":false,"zero":false},"axis":{"values":[50,100,150,200,250],"title":"Snippet length (time steps)"}},
"y":{"field":"rlo","type":"quantitative","scale":{"domain":[0.05,1.305],"nice":false,"zero":false},"axis":{"values":[0.2,0.4,0.6,0.8,1.0,1.2],"format":".1f","title":"Average normalized episode reward R̂c(π)"}},
"y2":{"field":"rhi"}}},
{"data":{"name":"fit"},"mark":{"type":"line","color":"#4169e1","strokeWidth":2,"strokeDash":[7,3]},
"encoding":{"x":{"field":"x","type":"quantitative","title":"Snippet length (time steps)"},"y":{"field":"ry","type":"quantitative","title":"Average normalized episode reward R̂c(π)"}}},
{"data":{"name":"pts"},"mark":{"type":"square","size":6,"color":"#4169e1","opacity":1,"strokeWidth":0},
"encoding":{"x":{"field":"x","type":"quantitative","title":"Snippet length (time steps)"},"y":{"field":"r","type":"quantitative","title":"Average normalized episode reward R̂c(π)"}}}
]},
{"width":327,"height":255,
"layer":[
{"data":{"name":"fit"},"mark":{"type":"area","color":"#4169e1","opacity":0.15},
"encoding":{"x":{"field":"x","type":"quantitative","scale":{"domain":[12,268],"nice":false,"zero":false},"axis":{"values":[50,100,150,200,250],"title":"Snippet length (time steps)"}},
"y":{"field":"llo","type":"quantitative","scale":{"domain":[0.26,1.095],"nice":false,"zero":false},"axis":{"values":[0.4,0.6,0.8,1.0],"format":".1f","title":"Average normalized episode length L̂c(π)"}},
"y2":{"field":"lhi"}}},
{"data":{"name":"fit"},"mark":{"type":"line","color":"#4169e1","strokeWidth":2,"strokeDash":[7,3]},
"encoding":{"x":{"field":"x","type":"quantitative","title":"Snippet length (time steps)"},"y":{"field":"ly","type":"quantitative","title":"Average normalized episode length L̂c(π)"}}},
{"data":{"name":"pts"},"mark":{"type":"square","size":6,"color":"#4169e1","opacity":1,"strokeWidth":0},
"encoding":{"x":{"field":"x","type":"quantitative","title":"Snippet length (time steps)"},"y":{"field":"l","type":"quantitative","title":"Average normalized episode length L̂c(π)"}}}
]}
],
"config":{
"view":{"stroke":"#d0d0d0","strokeWidth":1.25},
"axis":{"grid":true,"gridColor":"#d9d9d9","gridWidth":1,"domain":false,"ticks":false,"labelFont":"Liberation Serif","labelFontSize":13,"labelColor":"#444444","titleFont":"Liberation Sans","titleFontWeight":"normal","titleColor":"#222222"},
"axisX":{"titleFontSize":18,"labelPadding":5,"titlePadding":3},
"axisY":{"titleFontSize":13,"labelPadding":6,"titlePadding":3}
}
}
